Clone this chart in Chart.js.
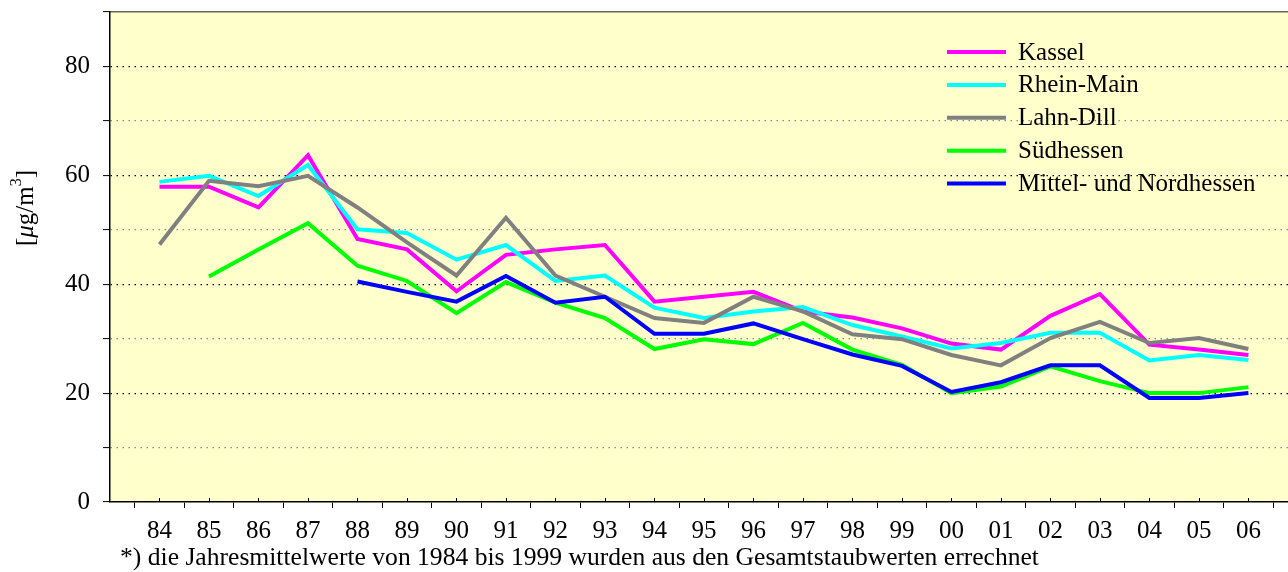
<!DOCTYPE html>
<html lang="de">
<head>
<meta charset="UTF-8">
<title>Staub Jahresmittelwerte</title>
<script src="https://cdn.jsdelivr.net/npm/chart.js@4.4.1/dist/chart.umd.min.js"></script>
<style>
    html, body { margin: 0; padding: 0; background: #ffffff; }
    #wrap { width: 1288px; height: 572px; position: relative; }
</style>
</head>
<body>
<div id="wrap"><canvas id="staub"></canvas></div>
<script>
    // Jahre (x-Achse)
    var years = ["84", "85", "86", "87", "88", "89", "90", "91", "92", "93", "94", "95",
                 "96", "97", "98", "99", "00", "01", "02", "03", "04", "05", "06"];

    // Jahresmittelwerte in µg/m3
    var kassel      = [57.9, 57.9, 54.1, 63.7, 48.3, 46.4, 38.7, 45.4, 46.4, 47.2, 36.8, 37.7,
                       38.6, 35.0, 33.9, 31.9, 29.1, 28.0, 34.2, 38.2, 28.9, 28.0, 27.0];
    var rheinMain   = [58.8, 59.9, 56.2, 61.9, 50.1, 49.4, 44.5, 47.2, 40.6, 41.6, 35.7, 33.8,
                       35.0, 35.8, 32.5, 30.4, 28.2, 29.2, 31.1, 31.1, 26.0, 27.0, 26.1];
    var lahnDill    = [47.3, 59.0, 58.0, 59.9, 54.1, 47.7, 41.6, 52.2, 41.6, 37.7, 33.8, 32.9,
                       37.7, 35.0, 30.8, 29.9, 27.0, 25.1, 30.1, 33.1, 29.2, 30.1, 28.1];
    var suedhessen  = [null, 41.4, 46.4, 51.2, 43.4, 40.6, 34.7, 40.4, 36.6, 33.8, 28.1, 29.9,
                       29.0, 32.9, 28.0, 25.2, 20.0, 21.2, 24.9, 22.2, 20.0, 20.0, 21.1];
    var mittelNord  = [null, null, null, null, 40.5, 38.6, 36.8, 41.5, 36.6, 37.7, 30.9, 30.9,
                       32.8, 29.9, 27.1, 25.0, 20.2, 22.0, 25.1, 25.1, 19.1, 19.1, 20.0];

    var seriesNames  = ["Kassel", "Rhein-Main", "Lahn-Dill", "Südhessen", "Mittel- und Nordhessen"];
    var seriesColors = ["#ff00ff", "#00ffff", "#808080", "#00ff00", "#0000ff"];
    var seriesData   = [kassel, rheinMain, lahnDill, suedhessen, mittelNord];

    var yMin = 0, yMax = 90, yStep = 10, yLabelStep = 20;
    var footnote = "*) die Jahresmittelwerte von 1984 bis 1999 wurden aus den Gesamtstaubwerten errechnet";

    var FONT = "'Liberation Serif', 'Times New Roman', serif";

    function toPoints(arr) {
        return arr.map(function (v, i) { return {x: i, y: v}; });
    }

    var datasets = seriesData.map(function (arr, i) {
        return {
            label: seriesNames[i],
            data: toPoints(arr),
            borderColor: seriesColors[i],
            backgroundColor: seriesColors[i],
            borderWidth: 4,
            pointRadius: 0,
            tension: 0,
            spanGaps: false,
            order: seriesData.length - i
        };
    });

    // Hintergrund der Zeichenfläche
    var plotBg = {
        id: 'plotBg',
        beforeDraw: function (chart) {
            var a = chart.chartArea, ctx = chart.ctx;
            ctx.save();
            ctx.fillStyle = '#ffffcc';
            ctx.fillRect(a.left, a.top, a.right - a.left, a.bottom - a.top);
            ctx.restore();
        }
    };

    // Legende, Achsentitel, Fußnote, innere Teilstriche
    var extras = {
        id: 'extras',
        afterDraw: function (chart) {
            var ctx = chart.ctx, x = chart.scales.x, a = chart.chartArea;
            ctx.save();

            // kleine Teilstriche nach innen
            ctx.strokeStyle = '#000';
            ctx.lineWidth = 1;
            years.forEach(function (y, i) {
                var px = Math.round(x.getPixelForValue(i)) + 0.5;
                ctx.beginPath();
                ctx.moveTo(px, a.bottom);
                ctx.lineTo(px, a.bottom - 4);
                ctx.stroke();
            });

            // Legende
            ctx.font = '25px ' + FONT;
            ctx.textBaseline = 'middle';
            ctx.textAlign = 'left';
            seriesNames.forEach(function (name, i) {
                var cy = 52 + i * 32.9;
                ctx.strokeStyle = seriesColors[i];
                ctx.lineWidth = 4;
                ctx.beginPath();
                ctx.moveTo(947, cy);
                ctx.lineTo(1006, cy);
                ctx.stroke();
                ctx.fillStyle = '#000';
                ctx.fillText(name, 1018, cy + 1);
            });

            // y-Achsentitel [µg/m3]
            ctx.translate(33, 208);
            ctx.rotate(-Math.PI / 2);
            ctx.textBaseline = 'alphabetic';
            var parts = [
                {t: '[', f: '25px ' + FONT, dy: 0},
                {t: 'μ', f: 'italic 25px ' + FONT, dy: 0},
                {t: 'g/m', f: '25px ' + FONT, dy: 0},
                {t: '3', f: '16px ' + FONT, dy: -12},
                {t: ']', f: '25px ' + FONT, dy: 0}
            ];
            var total = 0;
            parts.forEach(function (p) { ctx.font = p.f; p.w = ctx.measureText(p.t).width; total += p.w; });
            var cx = -total / 2;
            ctx.fillStyle = '#000';
            parts.forEach(function (p) {
                ctx.font = p.f;
                ctx.fillText(p.t, cx, p.dy);
                cx += p.w;
            });
            ctx.setTransform(1, 0, 0, 1, 0, 0);

            // Fußnote
            ctx.font = '25.6px ' + FONT;
            ctx.textBaseline = 'alphabetic';
            ctx.fillStyle = '#000';
            ctx.fillText(footnote, 120, 565);

            ctx.restore();
        }
    };

    var chart = new Chart(document.getElementById('staub').getContext('2d'), {
        type: 'line',
        data: {datasets: datasets},
        plugins: [plotBg, extras],
        options: {
            responsive: true,
            maintainAspectRatio: false,
            animation: false,
            layout: {padding: {top: 12, left: 0, right: 0, bottom: 0}},
            plugins: {
                legend: {display: false},
                tooltip: {enabled: false}
            },
            scales: {
                x: {
                    type: 'linear',
                    position: 'bottom',
                    min: -1,
                    max: 22.8,
                    afterBuildTicks: function (scale) {
                        var t = [];
                        for (var j = 0; j <= years.length * 2; j++) {
                            t.push({value: -0.5 + j * 0.5});
                        }
                        scale.ticks = t;
                    },
                    afterFit: function (scale) {
                        scale.height = 70;
                        scale.paddingLeft = 0;
                        scale.paddingRight = 0;
                    },
                    ticks: {
                        autoSkip: false,
                        maxRotation: 0,
                        padding: 8,
                        color: '#000',
                        font: {family: FONT, size: 25},
                        callback: function (value) {
                            return Number.isInteger(value) && years[value] !== undefined ? years[value] : '';
                        }
                    },
                    grid: {
                        drawOnChartArea: false,
                        tickLength: 6,
                        tickWidth: 1,
                        tickColor: function (ctx) {
                            return ctx.tick && Number.isInteger(ctx.tick.value) ? 'rgba(0,0,0,0)' : '#000';
                        }
                    },
                    border: {color: '#000', width: 1.5}
                },
                top: {
                    type: 'linear',
                    position: 'top',
                    min: 0,
                    max: 1,
                    afterFit: function (scale) {
                        scale.height = 0;
                        scale.paddingLeft = 0;
                        scale.paddingRight = 0;
                    },
                    ticks: {display: false},
                    grid: {drawOnChartArea: false, drawTicks: false},
                    border: {color: '#666666', width: 1.5}
                },
                y: {
                    min: yMin,
                    max: yMax,
                    afterFit: function (scale) {
                        scale.width = 110;
                        scale.paddingTop = 0;
                        scale.paddingBottom = 0;
                    },
                    ticks: {
                        stepSize: yStep,
                        padding: 13,
                        color: '#000',
                        font: {family: FONT, size: 25},
                        callback: function (value) {
                            return value % yLabelStep === 0 ? value : '';
                        }
                    },
                    grid: {
                        tickLength: 7,
                        tickWidth: 1,
                        tickColor: '#000',
                        lineWidth: 1.2,
                        color: function (ctx) {
                            if (!ctx.tick) return '#000';
                            var v = ctx.tick.value;
                            if (v === yMin || v === yMax) return 'rgba(0,0,0,0)';
                            return v % yLabelStep === 0 ? '#000' : '#8a8a8a';
                        }
                    },
                    border: {color: '#000', width: 1.5, dash: [1.5, 4.5]}
                }
            }
        }
    });
</script>
</body>
</html>
